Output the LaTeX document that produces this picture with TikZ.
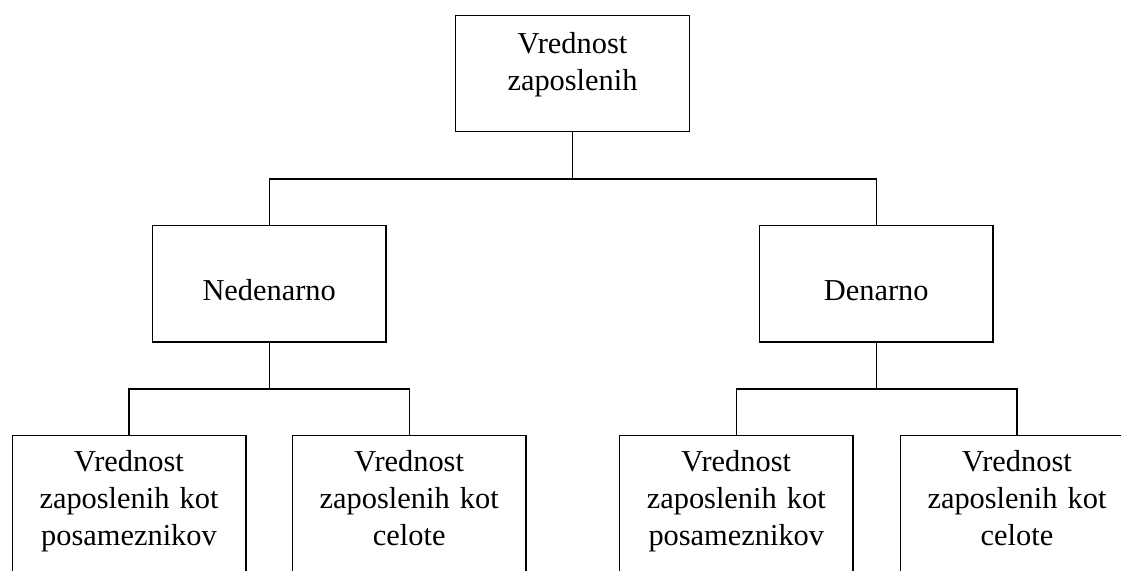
\documentclass[tikz,border=0pt]{standalone}
\usepackage{fontspec}
\setmainfont{Liberation Serif}
\begin{document}
\begin{tikzpicture}[x=1pt,y=-1pt,
  box/.style={draw=black,line width=1.4pt,rectangle,minimum width=233.6pt,inner sep=0pt},
  lbl/.style={anchor=base,inner sep=0pt,text width=230pt,align=center,
    font=\fontsize{30.4pt}{37pt}\selectfont},
  conn/.style={draw=black,line width=1.4pt}]
\useasboundingbox (0,0) rectangle (1121,570);
\clip (0,0) rectangle (1121,570);
% boxes
\node[box,minimum height=116pt] (top) at (572.5,73.7) {};
\node[box,minimum height=116.3pt] (ned) at (269.2,283.9) {};
\node[box,minimum height=116.3pt] (den) at (876.3,283.9) {};
\node[box,minimum height=140pt] (b1) at (129,505.7) {};
\node[box,minimum height=140pt] (b2) at (409.2,505.7) {};
\node[box,minimum height=140pt] (b3) at (736.3,505.7) {};
\node[box,minimum height=140pt] (b4) at (1017,505.7) {};
% texts
\node[lbl] (toptxt) at (572.5,53.3) {Vrednost\\zaposlenih};
\node[lbl] (nedtxt) at (269.2,300.5) {Nedenarno};
\node[lbl] (dentxt) at (876.3,300.5) {Denarno};
\node[lbl] (b1txt) at (129,471.7) {Vrednost\\zaposlenih kot\\posameznikov};
\node[lbl] (b2txt) at (409.2,471.7) {Vrednost\\zaposlenih kot\\celote};
\node[lbl] (b3txt) at (736.3,471.7) {Vrednost\\zaposlenih kot\\posameznikov};
\node[lbl] (b4txt) at (1017,471.7) {Vrednost\\zaposlenih kot\\celote};
% junctions
\coordinate (j1) at (572.5,179);
\coordinate (j2) at (269.2,389);
\coordinate (j3) at (876.3,389);
% connectors
\draw[conn] (top.south) -- (j1);
\draw[conn] (ned.north) |- (j1) -| (den.north);
\draw[conn] (ned.south) -- (j2);
\draw[conn] (b1.north) |- (j2) -| (b2.north);
\draw[conn] (den.south) -- (j3);
\draw[conn] (b3.north) |- (j3) -| (b4.north);
\end{tikzpicture}
\end{document}
